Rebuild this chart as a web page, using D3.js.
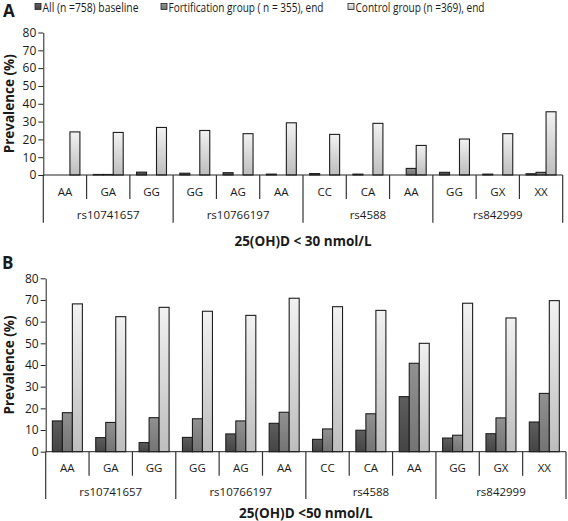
<!DOCTYPE html>
<html><head><meta charset="utf-8">
<script src="https://d3js.org/d3.v7.min.js"></script>
<style>
body{margin:0;background:#fff;}
svg{display:block;}
text{font-family:"Open Sans",sans-serif;fill:#1a1a1a;}
</style></head>
<body><svg id="c" width="568" height="521"></svg>
<script>
const genotypes = ["AA","GA","GG","GG","AG","AA","CC","CA","AA","GG","GX","XX"];
const snps = ["rs10741657","rs10766197","rs4588","rs842999"];
const series = ["All (n =758) baseline","Fortification group ( n = 355), end","Control group (n =369), end"];
const yTicks = [0,10,20,30,40,50,60,70,80];
// Panel A: 25(OH)D < 30 nmol/L
const aAll     = [0,0.3,1.6,1.0,1.3,0.5,0.8,0.5,0,1.5,0.5,0.7];
const aFort    = [0,0.3,0,0,0,0,0,0,3.7,0,0,1.5];
const aControl = [24.2,23.9,26.7,25.0,23.2,29.3,22.8,29.0,16.6,20.2,23.2,35.5];
// Panel B: 25(OH)D < 50 nmol/L
const bAll     = [14.2,6.5,4.2,6.6,8.2,13.1,5.7,9.9,25.4,6.3,8.3,13.7];
const bFort    = [18.0,13.5,15.7,15.2,14.2,18.2,10.5,17.5,40.8,7.6,15.6,26.9];
const bControl = [68.2,62.3,66.6,64.8,62.9,70.8,66.9,65.2,50.0,68.5,61.7,69.7];

const svg = d3.select("#c");
const defs = svg.append("defs");
const fills = ["gDark","gMid","gLight"];
const stops = [["#5e5e5e","#444"],["#919191","#747474"],["#f2f2f2","#bdbdbd"]];
fills.forEach((id,i)=>{
  const g = defs.append("linearGradient").attr("id",id).attr("x1",0).attr("y1",0).attr("x2",0).attr("y2",1);
  g.append("stop").attr("offset","0%").attr("stop-color",stops[i][0]);
  g.append("stop").attr("offset","100%").attr("stop-color",stops[i][1]);
});

// legend
const legX = [35, 161, 348];
const legW = [96, 155, 129];
series.forEach((s,i)=>{
  svg.append("rect").attr("x",legX[i]).attr("y",3.5).attr("width",6).attr("height",6)
    .attr("fill",`url(#${fills[i]})`).attr("stroke","#222").attr("stroke-width",0.8);
  svg.append("text").attr("x",legX[i]+7.5).attr("y",11.5).attr("font-size",12)
    .attr("textLength",legW[i]).attr("lengthAdjust","spacingAndGlyphs").text(s);
});

function panel(cfg){
  const g = svg.append("g");
  const x = d3.scaleBand().domain(d3.range(genotypes.length)).range([cfg.left,cfg.right]).padding(0);
  const xs = d3.scaleBand().domain(d3.range(3)).range([0,x.bandwidth()]).paddingInner(0).paddingOuter(0.667);
  const y = d3.scaleLinear().domain([0,80]).range([cfg.y0,cfg.y80]);
  g.append("text").attr("x",cfg.letterX).attr("y",cfg.letterY).attr("font-family","Liberation Sans, Arial, sans-serif")
    .attr("font-weight","bold").attr("font-size",17).text(cfg.letter);
  cfg.vals.forEach((arr,si)=>{
    g.selectAll(null).data(arr).enter().append("rect")
      .attr("x",(d,i)=>x(i)+xs(si)).attr("width",xs.bandwidth())
      .attr("y",d=>y(d)).attr("height",d=>cfg.y0-y(d))
      .attr("fill",`url(#${fills[si]})`).attr("stroke","#1e1e1e").attr("stroke-width",1.1);
  });
  const ya = g.append("g").attr("transform",`translate(${cfg.left},0)`)
    .call(d3.axisLeft(y).tickValues(yTicks).tickSize(5).tickPadding(2).tickSizeOuter(0));
  ya.select(".domain").attr("stroke","#222");
  ya.selectAll(".tick line").attr("stroke","#222");
  ya.selectAll(".tick text").attr("font-size",12).attr("font-family","Open Sans, sans-serif").attr("fill","#1a1a1a");
  g.append("text").attr("transform",`translate(${cfg.ylabX},${(cfg.y0+cfg.y80)/2}) rotate(-90)`)
    .attr("text-anchor","middle").attr("font-weight","bold").attr("font-size",13.5).text("Prevalence (%)");
  g.append("line").attr("x1",cfg.left).attr("x2",cfg.right).attr("y1",cfg.y0).attr("y2",cfg.y0).attr("stroke","#222");
  for(let i=0;i<=genotypes.length;i++){
    const xx = i<genotypes.length ? x(i) : cfg.right;
    const long = i%3===0;
    g.append("line").attr("x1",xx).attr("x2",xx).attr("y1",cfg.y0).attr("y2",long?cfg.longEnd:cfg.shortEnd)
      .attr("stroke","#333").attr("stroke-width",1.2);
  }
  genotypes.forEach((t,i)=>{
    g.append("text").attr("x",x(i)+x.bandwidth()/2).attr("y",cfg.catY).attr("text-anchor","middle")
      .attr("font-size",11.5).text(t);
  });
  snps.forEach((t,i)=>{
    g.append("text").attr("x",(x(i*3)+ (i<3?x(i*3+3):cfg.right))/2).attr("y",cfg.snpY).attr("text-anchor","middle")
      .attr("font-size",11.5).text(t);
  });
  g.append("text").attr("x",(cfg.left+cfg.right)/2).attr("y",cfg.titleY).attr("text-anchor","middle")
    .attr("font-weight","bold").attr("font-size",13.5).text(cfg.title);
}

panel({letter:"A",letterX:3,letterY:17,left:43.3,right:562.7,y0:175,y80:32.5,ylabX:14,
  shortEnd:199,longEnd:222.7,catY:196,snpY:219,titleY:246,title:"25(OH)D < 30 nmol/L",
  vals:[aAll,aFort,aControl]});
panel({letter:"B",letterX:2,letterY:269,left:45.7,right:566,y0:451.7,y80:278.3,ylabX:14,
  shortEnd:475.7,longEnd:499,catY:472,snpY:496,titleY:518,title:"25(OH)D <50 nmol/L",
  vals:[bAll,bFort,bControl]});
</script></body></html>
